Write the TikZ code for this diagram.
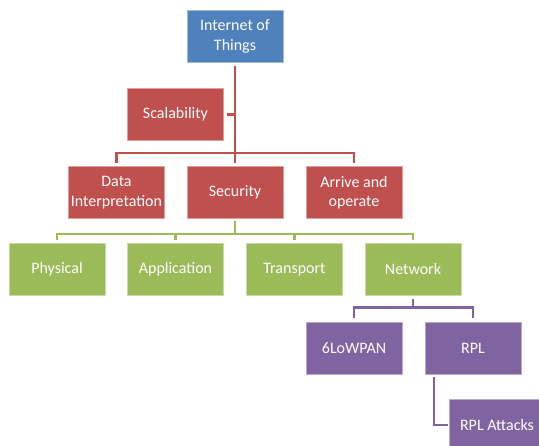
\documentclass[tikz,border=0pt]{standalone}
\usepackage{fontspec}
\setmainfont{Carlito}
\definecolor{iotblue}{HTML}{4F81BD}
\definecolor{secred}{HTML}{C0504D}
\definecolor{laygreen}{HTML}{9BBB59}
\definecolor{netpurple}{HTML}{8064A2}
\tikzset{
  box/.style={rectangle, fill=#1, draw=#1!55!white, line width=0.8pt,
    minimum width=96pt, minimum height=52pt, inner sep=1pt, align=center,
    text=white, font=\fontsize{16}{19.5}\selectfont},
  link/.style={draw=#1, line width=2.2pt}
}
\begin{document}
\begin{tikzpicture}[x=1pt,y=-1pt]
\useasboundingbox (0,0) rectangle (539,446);
\clip (0,0) rectangle (539,446);

% boxes
\node[box=iotblue] (iot) at (235,36.5) {Internet of\\Things};
\node[box=secred] (scal) at (175.5,114.5) {Scalability};
\node[box=secred] (data) at (116.5,192.5) {Data\\Interpretation};
\node[box=secred] (sec) at (235,192.5) {Security};
\node[box=secred] (arr) at (354,192.5) {Arrive and\\operate};
\node[box=laygreen] (phys) at (57,269.5) {Physical};
\node[box=laygreen] (app) at (175.5,269.5) {Application};
\node[box=laygreen] (trans) at (294.5,269.5) {Transport};
\node[box=laygreen] (net) at (413,269.5) {Network};
\node[box=netpurple] (low) at (354,348) {6LoWPAN};
\node[box=netpurple] (rpl) at (473,348) {RPL};
\node[box=netpurple] (att) at (497,425) {RPL Attacks};

% bus rails
\coordinate (rbar) at (235,153);
\coordinate (gbar) at (235,234);
\coordinate (pbar) at (413,307.5);

% red connectors
\draw[link=secred] ([yshift=-3pt]iot.south) -- ([yshift=3pt]sec.north);
\draw[link=secred] ([xshift=3pt]scal.east) -- (scal.east -| iot.south);
\draw[link=secred] ([yshift=3pt]data.north) -- (data.north |- rbar)
  -- (arr.north |- rbar) -- ([yshift=3pt]arr.north);

% green connectors
\draw[link=laygreen] ([yshift=-2pt]sec.south) -- (sec.south |- gbar);
\draw[link=laygreen] ([yshift=3pt]phys.north) -- (phys.north |- gbar)
  -- (net.north |- gbar) -- ([yshift=3pt]net.north);
\draw[link=laygreen] ([yshift=3pt]app.north) -- (app.north |- gbar);
\draw[link=laygreen] ([yshift=3pt]trans.north) -- (trans.north |- gbar);

% purple connectors
\draw[link=netpurple] ([yshift=-3pt]net.south) -- (net.south |- pbar);
\draw[link=netpurple] ([yshift=4pt]low.north) -- (low.north |- pbar)
  -- (rpl.north |- pbar) -- ([yshift=4pt]rpl.north);
\draw[link=netpurple] ([xshift=9pt,yshift=-3pt]rpl.south west) |- ([xshift=-1pt]att.west);
\end{tikzpicture}
\end{document}
